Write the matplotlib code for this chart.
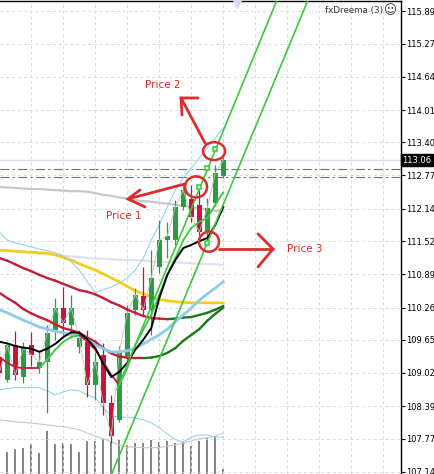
import numpy as np
import matplotlib.pyplot as plt
from matplotlib.patches import Ellipse

# candle data (one bar per index 0..28)
opens = [109.32, 108.89, 109.55, 108.94, 109.55, 109.11, 109.23, 109.84, 110.25, 109.93,
         109.51, 109.61, 108.79, 109.36, 108.45, 108.13, 109.34, 110.22, 110.48, 110.22,
         111.03, 111.54, 111.54, 112.17, 112.32, 112.21, 111.70, 112.25, 112.76]
highs = [109.46, 109.59, 109.82, 109.61, 109.80, 109.42, 109.93, 110.44, 110.65, 110.50,
         109.84, 109.84, 109.42, 109.59, 108.60, 109.53, 110.31, 110.63, 111.03, 111.35,
         111.92, 111.89, 112.30, 112.59, 112.59, 112.49, 112.34, 112.97, 113.12]
lows = [108.92, 108.85, 108.89, 108.83, 109.15, 109.02, 108.26, 109.65, 109.74, 109.68,
        109.40, 108.56, 108.51, 108.22, 107.69, 108.09, 109.27, 110.12, 110.10, 109.74,
        110.92, 111.20, 111.45, 112.11, 111.89, 111.64, 111.49, 112.19, 112.72]
closes = [109.02, 109.55, 108.98, 109.49, 109.36, 109.23, 109.78, 110.25, 109.97, 110.25,
          109.68, 108.79, 109.23, 108.45, 107.82, 109.42, 110.16, 110.50, 110.22, 110.82,
          111.54, 111.62, 112.17, 112.49, 111.98, 111.70, 112.15, 112.82, 113.06]
volumes = [3000, 2200, 2500, 2600, 3000, 2100, 4300, 3000, 3100, 3000,
           2200, 3300, 3300, 3500, 3200, 3400, 2900, 3100, 3100, 3400,
           3200, 3300, 3100, 3200, 2800, 3300, 3600, 3800, 500]

# indicators
ma_gray = [112.55, 112.54, 112.53, 112.52, 112.51, 112.51, 112.50, 112.49, 112.48, 112.47,
           112.47, 112.46, 112.43, 112.40, 112.38, 112.35, 112.33, 112.30, 112.28, 112.27,
           112.25, 112.23, 112.21, 112.19, 112.17, 112.14, 112.12, 112.10, 112.08]
ma_lavender = [111.35, 111.34, 111.33, 111.31, 111.30, 111.28, 111.27, 111.26, 111.24, 111.23,
               111.22, 111.20, 111.19, 111.19, 111.18, 111.17, 111.16, 111.16, 111.15, 111.14,
               111.13, 111.12, 111.12, 111.11, 111.10, 111.09, 111.09, 111.08, 111.07]
ma_yellow = [111.35, 111.34, 111.33, 111.32, 111.31, 111.30, 111.29, 111.26, 111.21, 111.16,
             111.09, 111.03, 110.97, 110.90, 110.82, 110.75, 110.66, 110.58, 110.52, 110.46,
             110.41, 110.39, 110.37, 110.36, 110.35, 110.35, 110.35, 110.35, 110.35]
ma_slow = [111.20, 111.15, 111.08, 111.01, 110.95, 110.88, 110.82, 110.77, 110.71, 110.65,
           110.59, 110.56, 110.51, 110.44, 110.36, 110.30, 110.22, 110.16, 110.10, 110.06,
           110.05, 110.04, 110.05, 110.07, 110.08, 110.12, 110.16, 110.22, 110.29]
ma_mid = [110.54, 110.44, 110.35, 110.23, 110.15, 110.08, 110.02, 109.94, 109.87, 109.83,
          109.78, 109.69, 109.61, 109.49, 109.39, 109.33, 109.31, 109.30, 109.30, 109.31,
          109.34, 109.40, 109.49, 109.63, 109.74, 109.85, 110.01, 110.14, 110.26]
ma_blue = [110.22, 110.16, 110.09, 110.02, 109.96, 109.89, 109.85, 109.81, 109.78, 109.75,
           109.72, 109.65, 109.55, 109.48, 109.42, 109.42, 109.44, 109.48, 109.57, 109.66,
           109.74, 109.85, 109.99, 110.12, 110.25, 110.40, 110.52, 110.63, 110.75]
ma_black = [109.61, 109.58, 109.53, 109.50, 109.48, 109.42, 109.48, 109.57, 109.70, 109.79,
            109.78, 109.66, 109.49, 109.19, 108.94, 109.04, 109.21, 109.46, 109.65, 109.87,
            110.44, 110.88, 111.16, 111.39, 111.45, 111.52, 111.58, 111.83, 112.17]
ma_fast = [109.32, 109.21, 109.13, 109.11, 109.11, 109.11, 109.27, 109.46, 109.61, 109.70,
           109.74, 109.61, 109.46, 109.23, 108.98, 108.79, 109.11, 109.55, 109.84, 110.12,
           110.50, 110.88, 111.20, 111.54, 111.77, 111.89, 111.96, 112.21, 112.45]
bb_upper = [111.70, 111.54, 111.49, 111.45, 111.41, 111.37, 111.34, 111.30, 111.24, 111.13,
            110.97, 110.75, 110.54, 110.60, 110.65, 110.73, 110.82, 110.97, 111.20, 111.54,
            111.83, 112.17, 112.49, 112.72, 112.91, 113.10, 113.29, 113.48, 113.67]
bb_lower = [108.70, 108.72, 108.74, 108.74, 108.74, 108.74, 108.68, 108.60, 108.66, 108.70,
            108.68, 108.60, 108.55, 108.36, 108.20, 108.18, 108.18, 108.16, 108.13, 108.07,
            107.98, 107.86, 107.75, 107.71, 107.80, 107.84, 107.84, 107.80, 107.80]
ma_lgray = [108.13, 108.11, 108.09, 108.08, 108.07, 108.05, 108.03, 108.01, 108.00, 107.97,
            107.94, 107.88, 107.82, 107.77, 107.71, 107.65, 107.61, 107.61, 107.60, 107.60,
            107.60, 107.63, 107.65, 107.69, 107.73, 107.77, 107.79, 107.82, 107.88]

# signal markers (bar index, price)
sig_x = [25, 26, 27, 26]
sig_y = [112.55, 112.91, 113.27, 111.49]

# channel (two parallel lines), anchors (bar index, price)
chan_low_x = [14.09, 38.59]
chan_low_y = [107.12, 116.10]
chan_up_x = [14.71, 34.71]
chan_up_y = [108.70, 116.10]

bid = 113.06
dash_levels = [112.89, 112.74]
price_ticks = [115.89, 115.27, 114.64, 114.01, 113.40, 112.77, 112.14, 111.52,
               110.89, 110.26, 109.65, 109.02, 108.39, 107.77, 107.14]

# hand drawn notes
notes = ['Price 2', 'Price 1', 'Price 3']
note_x = [20.4, 15.52, 38.2]
note_y = [114.49, 112.00, 111.37]
circ_x = [26.84, 24.59, 26.21]
circ_y = [113.23, 112.55, 111.51]
circ_w = [2.75, 2.75, 2.5]
circ_h = [0.34, 0.40, 0.38]
# arrows: shaft start, tip, two head ends
arrows = [
    [(25.71, 113.385), (22.71, 114.239), (24.84, 114.239), (22.84, 113.916)],
    [(23.21, 112.607), (16.09, 112.322), (17.59, 112.493), (18.21, 112.170)],
    [(27.46, 111.373), (34.21, 111.373), (32.34, 111.658), (32.34, 111.031)],
]

GREEN = '#2E9A44'
RED = '#C8143C'
NOTE_RED = '#DD2C2C'

fig = plt.figure(figsize=(4.35, 4.74), dpi=100, facecolor='white')
ax = fig.add_axes([0, 0, 401 / 435, 473 / 474])
ax2 = ax.twinx()
ax.set_zorder(ax2.get_zorder() + 1)
ax.patch.set_visible(False)

x = np.arange(len(closes))

# volume
ax2.vlines(x, 0, volumes, color='#6E6E6E', lw=1.2)
ax2.set_ylim(0, 47300)
ax2.axis('off')

# grid / horizontal levels
ax.set_xticks(np.arange(0, 52, 4))
ax.set_yticks(price_ticks)
ax.set_yticklabels(['%.2f' % v for v in price_ticks])
ax.grid(True, color='#D9D9D9', linestyle=(0, (3, 3)), lw=0.7, zorder=0)
ax.axhline(bid, color='#DCDCF0', lw=1.0, zorder=1)
for lv in dash_levels:
    ax.axhline(lv, color='#6E6E6E', lw=0.8, linestyle=(0, (8, 3, 2, 3)), zorder=1)

# slow averages behind the candles
ax.plot(x, ma_gray, color='#C8C8C8', lw=1.6, zorder=2)
ax.plot(x, ma_lavender, color='#E2DEF2', lw=1.5, zorder=2)
ax.plot(x, ma_yellow, color='#F2CE1A', lw=2.0, zorder=2)
ax.plot(x, ma_lgray, color='#C8C8C8', lw=0.8, zorder=2)
ax.plot(x, bb_upper, color='#87CEEB', lw=0.7, zorder=2)
ax.plot(x, bb_lower, color='#87CEEB', lw=0.7, zorder=2)

# candles
up = np.array(closes) >= np.array(opens)
cols = [GREEN if u else RED for u in up]
ax.vlines(x, lows, highs, color=cols, lw=0.9, zorder=3)
body_lo = np.minimum(opens, closes)
body_h = np.abs(np.array(closes) - np.array(opens))
ax.bar(x, body_h, bottom=body_lo, width=0.62, color=cols, zorder=3)
ax.plot(x, closes, color='#B4CCB0', lw=0.6, zorder=3.5)


def two_tone(vals, c_up, c_dn, lw):
    for i in range(len(vals) - 1):
        c = c_up if vals[i + 1] > vals[i] else c_dn
        ax.plot(x[i:i + 2], vals[i:i + 2], color=c, lw=lw, zorder=4,
                solid_capstyle='round')


two_tone(ma_slow, '#1A7A1A', '#C41E3A', 1.7)
two_tone(ma_mid, '#1A7A1A', '#C41E3A', 1.7)
ax.plot(x, ma_blue, color='#8CCBEA', lw=2.0, zorder=4)
two_tone(ma_fast, '#3CC83C', '#C41E3A', 1.3)
ax.plot(x, ma_black, color='black', lw=1.4, zorder=4)

# channel
ax.plot(chan_low_x, chan_low_y, color='#3CC83C', lw=1.2, zorder=4)
ax.plot(chan_up_x, chan_up_y, color='#3CC83C', lw=1.2, zorder=4)

# signal markers
ax.plot(sig_x, sig_y, 's', ms=3.5, mfc='white', mec='#33CC33', mew=1.1, ls='none', zorder=5)

# notes
for cx, cy, w, h in zip(circ_x, circ_y, circ_w, circ_h):
    ax.add_patch(Ellipse((cx, cy), w, h, fill=False, ec=NOTE_RED, lw=1.8, zorder=6))
for a in arrows:
    s, t, h1, h2 = a
    ax.plot([s[0], t[0]], [s[1], t[1]], color=NOTE_RED, lw=2.0, zorder=6, solid_capstyle='round')
    ax.plot([h1[0], t[0], h2[0]], [h1[1], t[1], h2[1]], color=NOTE_RED, lw=2.0, zorder=6,
            solid_capstyle='round', solid_joinstyle='miter')
for s, nx, ny in zip(notes, note_x, note_y):
    ax.text(nx, ny, s, color=NOTE_RED, fontsize=7.5, ha='center', va='center', zorder=6)

# axes look
ax.set_xlim(0.0875, 50.21)
ax.set_ylim(107.10, 116.08)
ax.yaxis.tick_right()
ax.tick_params(axis='y', length=3, width=0.8, pad=0.8, labelsize=6.0, color='black')
ax.tick_params(axis='x', length=0, labelbottom=False)
for sp in ['left', 'bottom']:
    ax.spines[sp].set_visible(False)
for sp in ['top', 'right']:
    ax.spines[sp].set_color('black')
    ax.spines[sp].set_linewidth(1.0)

ax.text(1.003, bid, '%.2f' % bid, transform=ax.get_yaxis_transform(), color='white',
        fontsize=6.0, ha='left', va='center',
        bbox=dict(boxstyle='square,pad=0.2', fc='black', ec='black'))
ax.text(0.955, 0.979, 'fxDreema (3)', transform=ax.transAxes, fontsize=6.3,
        color='#333333', ha='right', va='center')
ax.text(0.973, 0.979, '\u263a', transform=ax.transAxes, fontsize=9,
        color='#333333', ha='center', va='center')
ax.plot([29.7], [0.994], 'v', ms=6, color='#DCD6F2', transform=ax.get_xaxis_transform(),
        clip_on=False, zorder=6)

plt.savefig('out.png', dpi=100, facecolor='white')
